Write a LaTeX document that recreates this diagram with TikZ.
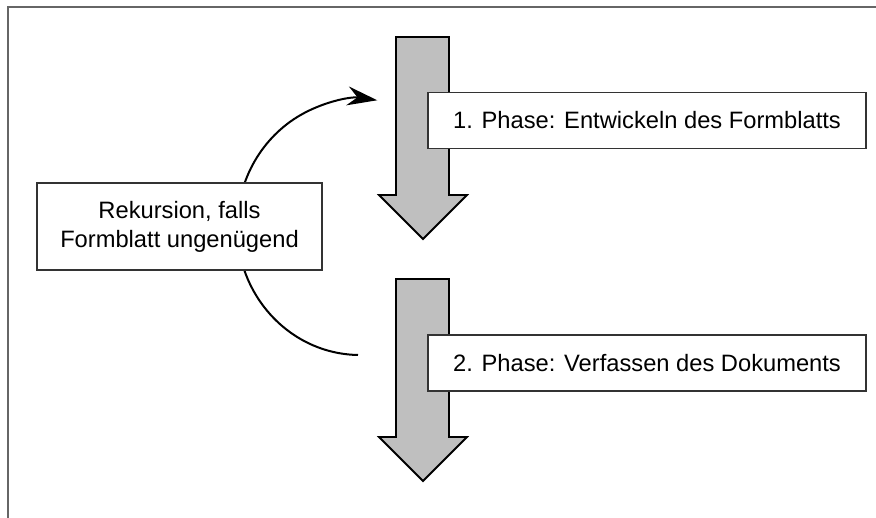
\documentclass[tikz,border=0pt]{standalone}
\usepackage{fontspec}
\setmainfont{Liberation Sans}
\usetikzlibrary{arrows.meta}

\begin{document}
\begin{tikzpicture}[x=1pt,y=-1pt,
    bigarrow/.style={draw=black,line width=1.8pt,fill=black!25,line join=miter},
    phasebox/.style={draw=black!80,line width=1.3pt,fill=white,inner sep=0pt,
      minimum width=438pt,minimum height=56pt,font=\fontsize{23.7}{29}\selectfont},
    rekbox/.style={phasebox,minimum width=285pt,minimum height=87pt,align=center}]

    \useasboundingbox (0,0) rectangle (876,518);

    % Frame (top and left only)
    \draw[black!60,line width=1.6pt] (876,7) -- (8,7) -- (8,518);

    % Phase arrows
    \foreach \y in {37,279} {
        \draw[bigarrow] (396,\y) -- (449,\y) -- (449,\y+158) -- (467,\y+158)
            -- (423,\y+202) -- (379,\y+158) -- (396,\y+158) -- cycle;
    }

    % Phases
    \node[phasebox] (phase1) at (647,120.5) {1. Phase: Entwickeln des Formblatts};
    \node[phasebox] (phase2) at (647,363) {2. Phase: Verfassen des Dokuments};

    % Recursion
    \coordinate (rekstart) at (358,355);
    \draw[line width=2pt,-{Stealth[length=30pt,width=19pt,inset=10pt]}]
        (rekstart) arc[start angle=91,end angle=278,x radius=123,y radius=128];
    \node[rekbox] (rekursion) at (179.5,226.5) {Rekursion, falls\\Formblatt ungenügend};

\end{tikzpicture}
\end{document}
